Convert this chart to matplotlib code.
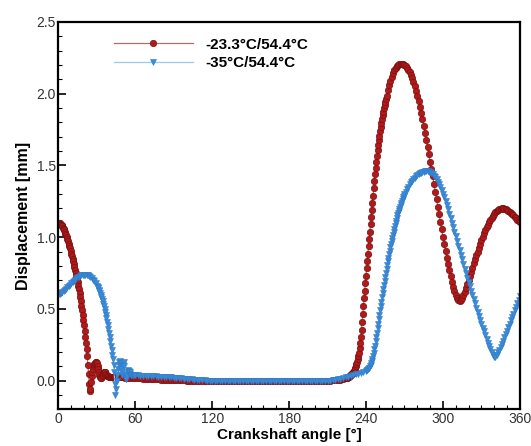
import numpy as np
import matplotlib
matplotlib.use("Agg")
import matplotlib.pyplot as plt
from matplotlib.ticker import MultipleLocator

plt.rcParams['font.family'] = ['Liberation Sans', 'DejaVu Sans']

# crank angle grids (deg) - finer where the curves are steep
red_angle = np.concatenate([np.arange(0, 45.01, 0.5), np.arange(46, 224.01, 2),
                            np.arange(225, 256.01, 0.5), np.arange(257, 360.01, 1)])
blue_angle = np.concatenate([np.arange(0, 30.01, 1), np.arange(30.5, 60.01, 0.5),
                             np.arange(62, 240.01, 2), np.arange(240.5, 270.01, 0.5),
                             np.arange(271, 360.01, 1)])

# -23.3C / 54.4C displacement [mm]
red_disp = [
    1.100, 1.099, 1.097, 1.093, 1.088, 1.082, 1.075, 1.067, 1.058, 1.048,
    1.037, 1.025, 1.012, 0.999, 0.985, 0.970, 0.955, 0.939, 0.922, 0.904,
    0.886, 0.868, 0.850, 0.831, 0.812, 0.792, 0.772, 0.752, 0.731, 0.709,
    0.686, 0.662, 0.636, 0.609, 0.581, 0.552, 0.522, 0.490, 0.457, 0.422,
    0.385, 0.346, 0.305, 0.263, 0.220, 0.170, 0.110, 0.050, -0.020, -0.075,
    -0.060, -0.010, 0.030, 0.060, 0.085, 0.105, 0.118, 0.126, 0.130, 0.128,
    0.120, 0.105, 0.085, 0.062, 0.040, 0.025, 0.018, 0.020, 0.030, 0.043,
    0.055, 0.062, 0.063, 0.058, 0.050, 0.042, 0.036, 0.032, 0.030, 0.029,
    0.029, 0.029, 0.028, 0.028, 0.028, 0.027, 0.027, 0.027, 0.026, 0.026,
    0.026,
    # 46 .. 224 step 2
    0.025, 0.024, 0.023, 0.022, 0.021, 0.020, 0.019, 0.018, 0.017, 0.016,
    0.015, 0.014, 0.013, 0.012, 0.011, 0.010, 0.009, 0.008, 0.007, 0.006,
    0.005, 0.004, 0.004, 0.003, 0.003, 0.002, 0.002, 0.001, 0.001, 0.001,
    0.000, 0.000, 0.000, 0.000, 0.000, 0.000, 0.000, 0.000, 0.000, 0.000,
    0.000, 0.000, 0.000, 0.000, 0.000, 0.000, 0.000, 0.000, 0.000, 0.000,
    0.000, 0.000, 0.000, 0.000, 0.000, 0.000, 0.000, 0.000, 0.000, 0.000,
    0.000, 0.000, 0.000, 0.000, 0.000, 0.000, 0.000, 0.000, 0.000, 0.000,
    0.000, 0.000, 0.000, 0.000, 0.000, 0.000, 0.000, 0.000, 0.000, 0.000,
    0.000, 0.000, 0.000, 0.001, 0.002, 0.003, 0.005, 0.008, 0.012, 0.018,
    # 225 .. 256 step 0.5
    0.020, 0.022, 0.025, 0.028, 0.031, 0.035, 0.039, 0.044, 0.049, 0.055,
    0.061, 0.070, 0.080, 0.091, 0.104, 0.118, 0.133, 0.150, 0.170, 0.195,
    0.225, 0.262, 0.305, 0.355, 0.410, 0.465, 0.520, 0.574, 0.627, 0.680,
    0.732, 0.784, 0.835, 0.886, 0.937, 0.988, 1.039, 1.090, 1.140, 1.190,
    1.240, 1.290, 1.340, 1.390, 1.438, 1.484, 1.527, 1.567, 1.605, 1.641,
    1.675, 1.707, 1.738, 1.767, 1.795, 1.822, 1.848, 1.873, 1.897, 1.920,
    1.942, 1.963, 1.983,
    # 257 .. 360 step 1
    2.022, 2.058, 2.090, 2.118, 2.142, 2.162, 2.178, 2.191, 2.200, 2.206,
    2.209, 2.208, 2.204, 2.200, 2.192, 2.181, 2.167, 2.150, 2.130, 2.107,
    2.081, 2.052, 2.020, 1.985, 1.948, 1.908, 1.866, 1.822, 1.776, 1.728,
    1.679, 1.629, 1.578, 1.527, 1.475, 1.423, 1.371, 1.318, 1.265, 1.212,
    1.159, 1.106, 1.054, 1.003, 0.953, 0.905, 0.858, 0.813, 0.770, 0.729,
    0.690, 0.654, 0.622, 0.595, 0.574, 0.560, 0.556, 0.562, 0.576, 0.596,
    0.620, 0.646, 0.673, 0.701, 0.730, 0.759, 0.788, 0.817, 0.845, 0.873,
    0.900, 0.927, 0.953, 0.978, 1.002, 1.027, 1.048, 1.068, 1.087, 1.105,
    1.121, 1.136, 1.150, 1.162, 1.173, 1.182, 1.189, 1.195, 1.199, 1.201,
    1.201, 1.199, 1.196, 1.191, 1.185, 1.178, 1.170, 1.161, 1.152, 1.142,
    1.132, 1.122, 1.113, 1.105,
]

# -35C / 54.4C displacement [mm]
blue_disp = [
    0.600, 0.606, 0.612, 0.619, 0.626, 0.634, 0.642, 0.651, 0.660, 0.669,
    0.678, 0.687, 0.696, 0.705, 0.713, 0.720, 0.726, 0.731, 0.735, 0.737,
    0.738, 0.738, 0.736, 0.733, 0.728, 0.722, 0.714, 0.704, 0.692, 0.678,
    0.662,
    # 30.5 .. 60 step 0.5
    0.653, 0.644, 0.634, 0.623, 0.611, 0.598, 0.584, 0.569, 0.553, 0.536,
    0.518, 0.499, 0.479, 0.457, 0.434, 0.410, 0.385, 0.359, 0.332, 0.304,
    0.275, 0.245, 0.214, 0.182, 0.148, 0.110, 0.060, -0.020, -0.100, -0.060,
    0.000, 0.040, 0.080, 0.110, 0.130, 0.135, 0.120, 0.080, 0.040, 0.060,
    0.110, 0.130, 0.100, 0.050, 0.015, 0.010, 0.030, 0.060, 0.075, 0.070,
    0.058, 0.048, 0.043, 0.041, 0.040, 0.040, 0.039, 0.039, 0.038, 0.038,
    # 62 .. 240 step 2
    0.037, 0.036, 0.035, 0.034, 0.033, 0.032, 0.031, 0.030, 0.029, 0.028,
    0.027, 0.026, 0.025, 0.024, 0.022, 0.021, 0.019, 0.017, 0.015, 0.013,
    0.011, 0.009, 0.007, 0.005, 0.004, 0.003, 0.002, 0.001, 0.001, 0.000,
    0.000, 0.000, 0.000, 0.000, 0.000, 0.000, 0.000, 0.000, 0.000, 0.000,
    0.000, 0.000, 0.000, 0.000, 0.000, 0.000, 0.000, 0.000, 0.000, 0.000,
    0.000, 0.000, 0.000, 0.000, 0.000, 0.000, 0.000, 0.000, 0.000, 0.000,
    0.000, 0.000, 0.000, 0.000, 0.000, 0.000, 0.000, 0.000, 0.000, 0.000,
    0.000, 0.000, 0.000, 0.000, 0.000, 0.001, 0.003, 0.006, 0.010, 0.014,
    0.019, 0.024, 0.029, 0.034, 0.039, 0.044, 0.050, 0.056, 0.063, 0.070,
    # 240.5 .. 270 step 0.5
    0.073, 0.077, 0.081, 0.086, 0.092, 0.100, 0.110, 0.122, 0.136, 0.152,
    0.171, 0.193, 0.218, 0.245, 0.274, 0.304, 0.335, 0.366, 0.397, 0.428,
    0.459, 0.490, 0.521, 0.551, 0.581, 0.611, 0.640, 0.669, 0.697, 0.725,
    0.752, 0.779, 0.805, 0.831, 0.856, 0.881, 0.905, 0.929, 0.952, 0.975,
    0.997, 1.018, 1.039, 1.059, 1.079, 1.098, 1.116, 1.134, 1.151, 1.167,
    1.183, 1.198, 1.213, 1.227, 1.240, 1.253, 1.265, 1.277, 1.288, 1.299,
    # 271 .. 360 step 1
    1.318, 1.336, 1.352, 1.367, 1.381, 1.393, 1.404, 1.414, 1.423, 1.431,
    1.438, 1.444, 1.449, 1.453, 1.456, 1.458, 1.459, 1.458, 1.456, 1.452,
    1.446, 1.438, 1.428, 1.416, 1.402, 1.386, 1.368, 1.348, 1.326, 1.302,
    1.277, 1.250, 1.222, 1.193, 1.163, 1.132, 1.101, 1.069, 1.037, 1.005,
    0.973, 0.941, 0.909, 0.877, 0.845, 0.813, 0.781, 0.750, 0.719, 0.688,
    0.657, 0.627, 0.597, 0.567, 0.538, 0.509, 0.480, 0.452, 0.424, 0.397,
    0.370, 0.343, 0.317, 0.291, 0.266, 0.242, 0.219, 0.198, 0.180, 0.168,
    0.168, 0.180, 0.197, 0.216, 0.236, 0.257, 0.279, 0.302, 0.325, 0.348,
    0.372, 0.396, 0.420, 0.444, 0.468, 0.492, 0.516, 0.540, 0.564, 0.588,
]

labels = ["-23.3°C/54.4°C", "-35°C/54.4°C"]

fig = plt.figure(figsize=(5.31, 4.46), dpi=100)
ax = fig.add_axes([0.110, 0.082, 0.869, 0.869])

ax.plot(red_angle, red_disp, '-', color='#b86a6a', lw=0.9, marker='o', ms=4.6,
        mfc='#b01a1a', mec='#7a1010', mew=0.5, label=labels[0])
ax.plot(blue_angle, blue_disp, '-', color='#9cc8ec', lw=0.9, marker='v', ms=4.6,
        mfc='#3b8bd8', mec='#2f7cc8', mew=0.4, label=labels[1])

ax.set_xlim(0, 360)
ax.set_ylim(-0.2, 2.5)
ax.xaxis.set_major_locator(MultipleLocator(60))
ax.xaxis.set_minor_locator(MultipleLocator(10))
ax.yaxis.set_major_locator(MultipleLocator(0.5))
ax.yaxis.set_minor_locator(MultipleLocator(0.1))
ax.yaxis.set_major_formatter(plt.FormatStrFormatter('%.1f'))
ax.tick_params(which='major', direction='in', length=6, width=1.2,
               labelsize=10, labelcolor='#333333', pad=2)
ax.tick_params(which='minor', direction='in', length=3, width=0.8)
for s in ax.spines.values():
    s.set_linewidth(1.6)

ax.set_xlabel("Crankshaft angle [°]", fontsize=11, fontweight='bold', labelpad=1)
ax.set_ylabel("Displacement [mm]", fontsize=11.5, fontweight='bold', labelpad=4)

ax.legend(loc='upper left', bbox_to_anchor=(0.09, 0.995), frameon=False,
          numpoints=1, handlelength=5.2,
          prop={'weight': 'bold', 'size': 11}, handletextpad=0.8, labelspacing=0.3)

fig.savefig("out.png", dpi=100)
